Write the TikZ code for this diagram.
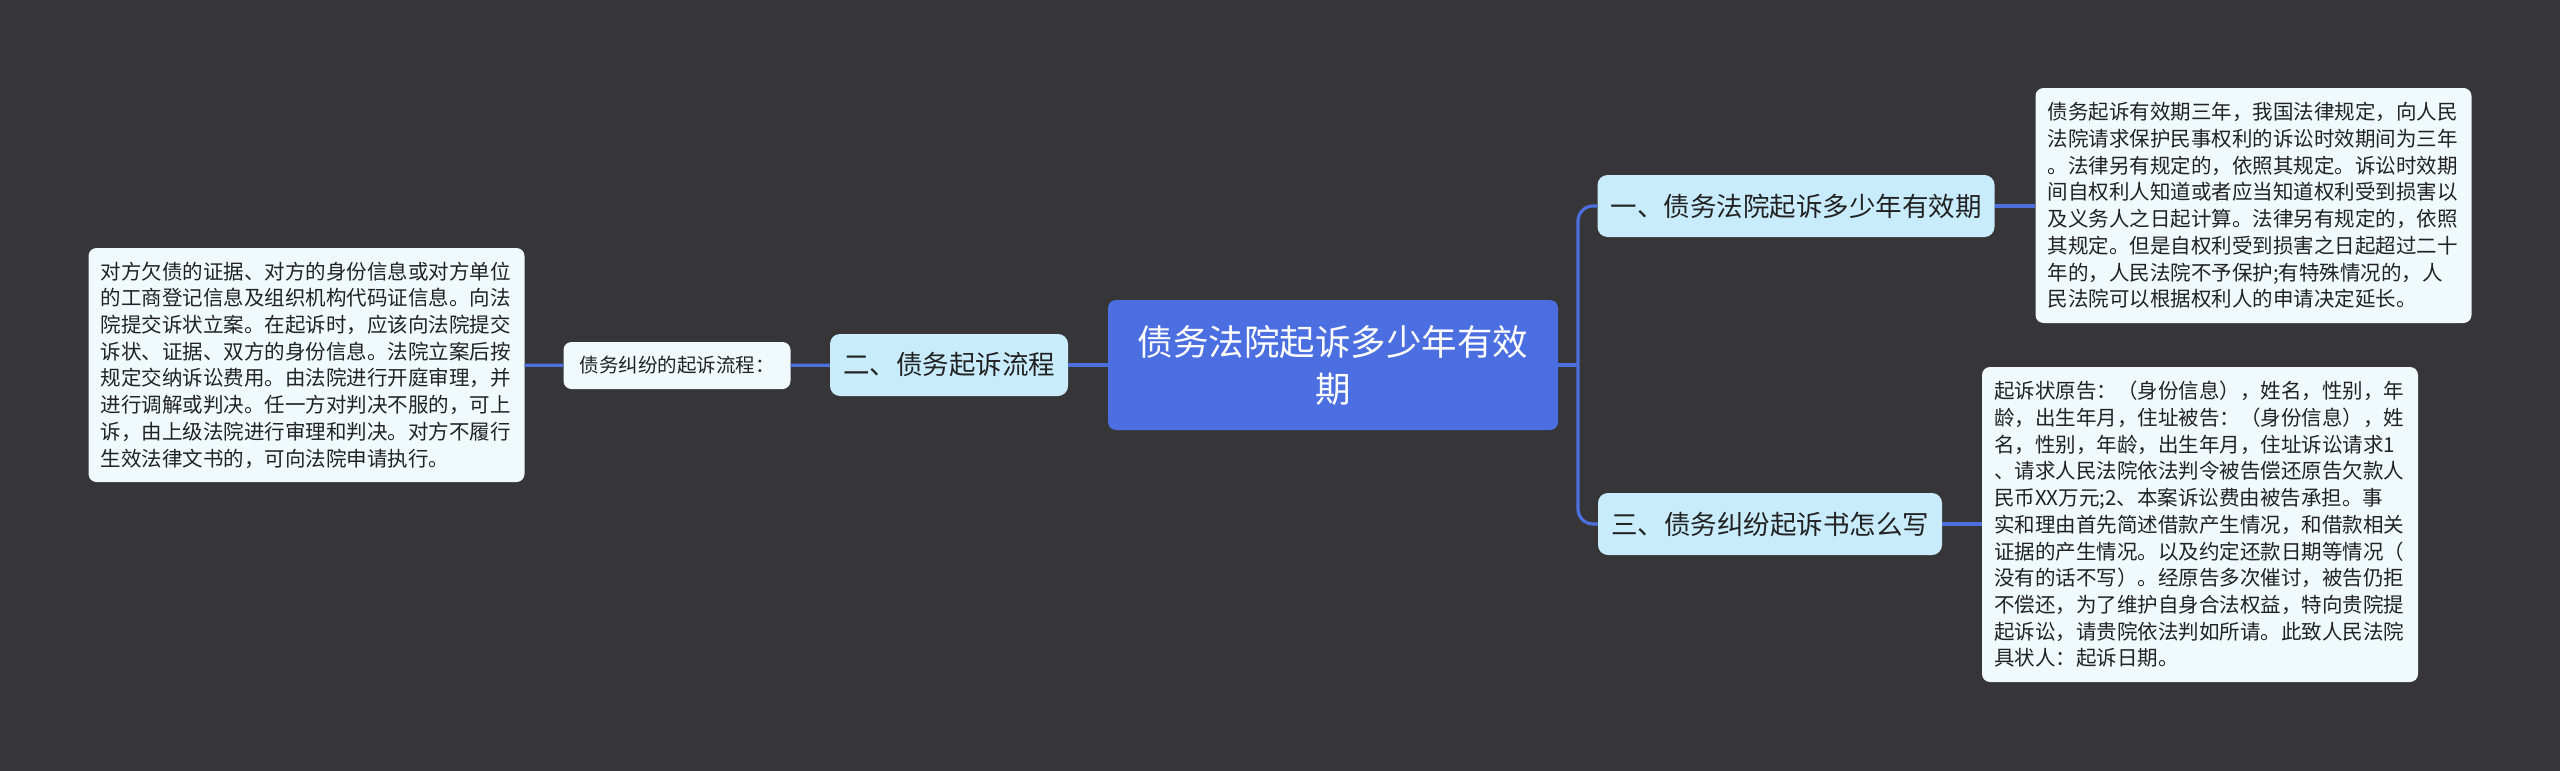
\documentclass[tikz,border=0pt]{standalone}
\usepackage{fontspec}
\setmainfont{Noto Sans CJK SC}
\definecolor{bg}{HTML}{363537}
\definecolor{rootblue}{HTML}{4B6EE0}
\definecolor{linkblue}{HTML}{4D6FDD}
\definecolor{branchfill}{HTML}{C8ECFC}
\definecolor{leaffill}{HTML}{F0F9FC}
\definecolor{ink}{HTML}{222222}
\begin{document}
\begin{tikzpicture}[x=1pt, y=-1pt,
    root/.style={fill=rootblue, rounded corners=8pt, text=white, align=center, minimum width=450pt, minimum height=130pt, font=\fontsize{35.5}{47}\selectfont},
    branch/.style={fill=branchfill, rounded corners=10pt, text=ink, inner xsep=13pt, minimum height=62pt, font=\fontsize{26.5}{30}\selectfont},
    flowbox/.style={fill=leaffill, rounded corners=8pt, text=ink, inner xsep=16pt, minimum height=47pt, font=\fontsize{19.5}{24}\selectfont},
    leaf/.style={fill=leaffill, rounded corners=8pt, text=ink, align=left, text width=412pt, inner xsep=12pt, font=\fontsize{20.5}{26.7}\selectfont},
    link/.style={draw=linkblue, line width=3.2pt}
]
\useasboundingbox (0,0) rectangle (2560,771);
\fill[bg] (0,0) rectangle (2560,771);

\node[root] (root) at (1333,365) {债务法院起诉多少年有效\\期};

\node[branch] (sec2) at (949,365) {二、债务起诉流程};
\node[flowbox] (flow) at (677,365.5) {债务纠纷的起诉流程：};
\node[leaf, minimum height=234pt] (lefttext) at (306.5,365) {对方欠债的证据、对方的身份信息或对方单位\\的工商登记信息及组织机构代码证信息。向法\\院提交诉状立案。在起诉时，应该向法院提交\\诉状、证据、双方的身份信息。法院立案后按\\规定交纳诉讼费用。由法院进行开庭审理，并\\进行调解或判决。任一方对判决不服的，可上\\诉，由上级法院进行审理和判决。对方不履行\\生效法律文书的，可向法院申请执行。};

\node[branch] (sec1) at (1796,206) {一、债务法院起诉多少年有效期};
\node[leaf, minimum height=235pt] (toptext) at (2253.5,205.5) {债务起诉有效期三年，我国法律规定，向人民\\法院请求保护民事权利的诉讼时效期间为三年\\。法律另有规定的，依照其规定。诉讼时效期\\间自权利人知道或者应当知道权利受到损害以\\及义务人之日起计算。法律另有规定的，依照\\其规定。但是自权利受到损害之日起超过二十\\年的，人民法院不予保护;有特殊情况的，人\\民法院可以根据权利人的申请决定延长。};

\node[branch] (sec3) at (1770,524) {三、债务纠纷起诉书怎么写};
\node[leaf, minimum height=315pt] (bottext) at (2200,524.5) {起诉状原告：（身份信息），姓名，性别，年\\龄，出生年月，住址被告：（身份信息），姓\\名，性别，年龄，出生年月，住址诉讼请求1\\、请求人民法院依法判令被告偿还原告欠款人\\民币XX万元;2、本案诉讼费由被告承担。事\\实和理由首先简述借款产生情况，和借款相关\\证据的产生情况。以及约定还款日期等情况（\\没有的话不写）。经原告多次催讨，被告仍拒\\不偿还，为了维护自身合法权益，特向贵院提\\起诉讼，请贵院依法判如所请。此致人民法院\\具状人：起诉日期。};

\coordinate (bus) at (1578,365);
\draw[link] (root) -- (sec2);
\draw[link] (sec2) -- (flow);
\draw[link] (flow) -- (lefttext);
\draw[link] (root.east) -- (bus);
\draw[link, rounded corners=15pt] (bus) |- (sec1.west);
\draw[link, rounded corners=15pt] (bus) |- (sec3.west);
\draw[link] (sec1.east) -- (sec1.east -| toptext.west);
\draw[link] (sec3.east) -- (sec3.east -| bottext.west);
\end{tikzpicture}
\end{document}
